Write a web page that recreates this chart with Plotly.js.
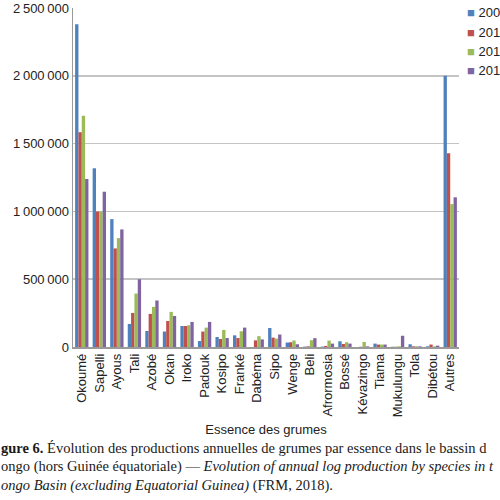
<!DOCTYPE html>
<html>
<head>
<meta charset="utf-8">
<script src="https://cdn.plot.ly/plotly-3.0.1.min.js"></script>
<style>
html,body{margin:0;padding:0;background:#fff;overflow:hidden;}
#chart{width:500px;height:500px;}
</style>
</head>
<body>
<div id="chart"></div>
<script>
const categories = ["Okoumé","Sapelli","Ayous","Tali","Azobé","Okan","Iroko","Padouk","Kosipo","Franké","Dabéma","Sipo","Wenge","Beli","Afrormosia","Bossé","Kévazingo","Tiama","Mukulungu","Tola","Dibétou","Autres"];
const seriesNames = ["200","201","201","201"];
const serie1 = [2380000,1318000,943000,170000,118000,114000,155000,44000,74000,86000,0,140000,33000,3000,3000,42000,0,25000,2000,20000,5000,2000000];
const serie2 = [1584000,1000000,727000,251000,244000,192000,155000,114000,59000,66000,49000,69000,35000,5000,8000,22000,2000,18000,2000,5000,18000,1429000];
const serie3 = [1706000,1000000,803000,394000,296000,259000,160000,143000,126000,116000,80000,62000,48000,50000,47000,35000,37000,18000,5000,5000,5000,1054000];
const serie4 = [1239000,1145000,867000,500000,343000,229000,185000,185000,66000,143000,56000,92000,20000,65000,25000,25000,5000,18000,83000,5000,10000,1104000];
const yTickVals = [0,500000,1000000,1500000,2000000,2500000];
const yTickText = ["0","500\u202F000","1\u202F000\u202F000","1\u202F500\u202F000","2\u202F000\u202F000","2\u202F500\u202F000"];
const colors = ["#4F81BD","#C0504D","#9BBB59","#8064A2"];
const captionLines = [
  "<b>gure 6.</b> Évolution des productions annuelles de grumes par essence dans le bassin d",
  "ongo (hors Guinée équatoriale) — <i>Evolution of annual log production by species in t</i>",
  "<i>ongo Basin (excluding Equatorial Guinea)</i> (FRM, 2018)."
];

const allSeries = [serie1, serie2, serie3, serie4];
const traces = allSeries.map((s, i) => ({
  type: "bar",
  name: seriesNames[i],
  x: categories,
  y: s,
  marker: {color: colors[i]},
  hoverinfo: "x+y"
}));

const W = 500, H = 500;
const mL = 73, mR = 41, mT = 8, mB = 153;
const plotW = W - mL - mR, plotH = H - mT - mB;
const px2x = p => (p - mL) / plotW;
const py2y = p => (H - mB - p) / plotH;

const captionY = [448, 466, 485];
const annotations = captionLines.map((t, i) => ({
  text: t,
  xref: "paper", yref: "paper",
  x: px2x(-1), y: py2y(captionY[i]),
  xanchor: "left", yanchor: "middle",
  showarrow: false,
  align: "left",
  font: {family: "Liberation Serif, Times New Roman, serif", size: 14.5, color: "#1a1a1a"}
}));

// legend drawn as text entries (swatch glyph + name), positioned at the right edge
const legendY = [12, 32, 51, 71];
seriesNames.forEach((n, i) => {
  annotations.push({
    text: "<span style='color:" + colors[i] + "'>■</span> " + n,
    xref: "paper", yref: "paper",
    x: px2x(465), y: py2y(legendY[i]),
    xanchor: "left", yanchor: "middle",
    showarrow: false, align: "left",
    font: {family: "Liberation Sans, Arial, sans-serif", size: 13, color: "#222"}
  });
});

const layout = {
  width: W, height: H,
  margin: {l: mL, r: mR, t: mT, b: mB, autoexpand: false},
  paper_bgcolor: "#fff",
  plot_bgcolor: "#fff",
  barmode: "group",
  bargap: 0.24,
  bargroupgap: 0,
  font: {family: "Liberation Sans, Arial, sans-serif", size: 13, color: "#222"},
  showlegend: false,
  xaxis: {
    type: "category",
    tickangle: -90,
    showline: true, linecolor: "#9a9a9a", linewidth: 1.5,
    showgrid: false, ticks: "",
    tickfont: {size: 13, color: "#222"},
    title: {text: "Essence des grumes", font: {size: 13, color: "#222"}, standoff: 8},
    automargin: false
  },
  yaxis: {
    range: [0, 2500000],
    tickvals: yTickVals, ticktext: yTickText,
    showline: true, linecolor: "#9a9a9a", linewidth: 1.5,
    showgrid: true, gridcolor: "#c4c4c4", gridwidth: 1.5,
    zeroline: false, ticks: "",
    tickfont: {size: 13, color: "#222"},
    automargin: false
  },
  annotations: annotations
};

Plotly.newPlot("chart", traces, layout, {displayModeBar: false, staticPlot: true});
</script>
</body>
</html>
